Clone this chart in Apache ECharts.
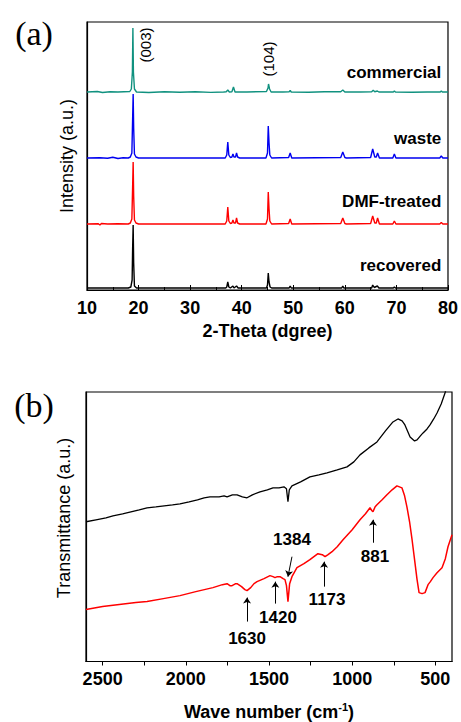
<!doctype html>
<html lang="en">
<head>
  <meta charset="UTF-8">
  <title>XRD and FTIR</title>
  <style>html, body {margin: 0; background: #fff;}</style>
</head>
<body>
<div id="main" style="width: 461px;height: 722px"></div>
<script src="https://cdn.jsdelivr.net/npm/echarts@6/dist/echarts.min.js"></script>
<script>
    // (a) XRD patterns, intensity (baseline = 0)
    var xrdNames = ['commercial', 'waste', 'DMF-treated', 'recovered'];
    var xrdOffsets = [198, 132, 66, 2];

    var xrdCommercial = [
        [10, 0], [12, 0.5], [13, -0.5], [14.5, 0.3], [16, 0], [18.3, 0.5], [18.6, 3], [18.8, 20], [18.9, 64],
        [19.0, 20], [19.2, 3], [19.6, 0], [22, -0.5], [25, 0.3], [28, -0.3], [31, 0.2], [34, -0.4], [36.5, 0],
        [37.0, 0.3], [37.3, 2], [37.6, 0], [38.1, 0.3], [38.4, 5], [38.7, 0], [41, 0], [44.8, 0.5], [45.1, 4],
        [45.2, 8], [45.4, 3], [45.7, 0], [48, 0], [49.2, 0.3], [49.4, 1.5], [49.6, 0], [53, -0.3], [56, 0.2],
        [59.2, 0.3], [59.6, 2], [60, 0], [63, 0], [65.2, 0.3], [65.5, 1.8], [65.8, 0.3], [66.3, 1], [66.6, 0],
        [69.4, 0], [69.6, 1], [69.8, 0], [73, -0.2], [76, 0], [78.5, 0], [78.7, 1], [78.9, 0], [80, 0]
    ];
    var xrdWaste = [
        [10, 0], [12.5, 0.3], [14, -0.3], [15, 0.8], [16, -0.5], [17, 0.2], [18, 0], [18.4, 1], [18.7, 5],
        [18.85, 40], [18.95, 64], [19.05, 30], [19.2, 4], [19.5, 1], [20, 0], [25, 0], [30, 0], [36.8, 0],
        [37.1, 3], [37.3, 16], [37.5, 3], [37.8, 0.5], [38.1, 1], [38.3, 4], [38.5, 1], [38.8, 1], [39.0, 5],
        [39.2, 1], [39.6, 0], [44.7, 0], [45.0, 5], [45.15, 32], [45.3, 15], [45.45, 3], [45.8, 0], [49.1, 0.5],
        [49.4, 5], [49.7, 0], [59.2, 0.5], [59.6, 6], [60, 0.5], [60.3, 0], [65.0, 0.5], [65.4, 9], [65.8, 1],
        [66.1, 1], [66.35, 5], [66.7, 0], [69.3, 0], [69.6, 4], [69.9, 0], [78.4, 0], [78.7, 2], [79, 0], [80, 0]
    ];
    var xrdDmf = [
        [10, 0], [12.2, 0.3], [12.5, -1], [12.8, 0.5], [14, 0], [16, 0.3], [18, 0], [18.4, 1], [18.7, 5],
        [18.85, 38], [18.95, 62], [19.05, 28], [19.2, 4], [19.5, 1], [20, 0], [25, 0], [30, 0], [36.8, 0],
        [37.1, 3], [37.3, 17], [37.5, 3], [37.8, 0.5], [38.1, 1], [38.3, 4], [38.5, 1], [38.8, 1], [39.0, 6],
        [39.2, 1], [39.6, 0], [44.7, 0], [45.0, 5], [45.15, 32], [45.3, 15], [45.45, 3], [45.8, 0], [49.1, 0.5],
        [49.4, 5], [49.7, 0], [59.2, 0.5], [59.6, 6], [60, 0.5], [60.3, 0], [65.0, 0.5], [65.4, 8], [65.8, 1],
        [66.1, 1], [66.35, 6], [66.7, 0], [69.3, 0], [69.6, 3], [69.9, 0], [78.4, 0], [78.7, 1.5], [79, 0], [80, 0]
    ];
    var xrdRecovered = [
        [10, 0], [14, 0], [18, 0], [18.5, 1], [18.75, 8], [18.85, 40], [18.95, 63], [19.05, 25], [19.2, 2],
        [19.6, 0], [25, 0], [30, 0], [36.9, 0], [37.1, 1], [37.3, 6], [37.5, 1], [37.8, 0], [38.3, 2], [38.5, 0],
        [39.0, 2], [39.3, 0], [44.8, 0], [45.0, 3], [45.15, 15], [45.3, 6], [45.5, 1], [45.8, 0], [49.2, 0],
        [49.4, 2], [49.6, 0], [59.4, 0], [59.6, 2], [59.8, 0], [65.2, 0], [65.4, 3], [65.7, 0.5], [66.3, 2],
        [66.6, 0], [69.4, 0], [69.6, 1], [69.8, 0], [80, 0]
    ];
    var xrdColors = ['#10917f', '#0000f0', '#ff0000', '#000000'];

    // (b) FTIR spectra [wave number, transmittance a.u.]
    var ftirTop = [
        [2600, 140], [2540, 142], [2480, 144], [2438, 146], [2380, 148], [2330, 150], [2280, 152], [2233, 154],
        [2180, 155], [2130, 156], [2080, 157], [2035, 158], [1980, 160], [1930, 162], [1890, 164], [1855, 165],
        [1800, 165], [1770, 166], [1752, 165], [1720, 167], [1692, 167], [1660, 165], [1632, 164], [1600, 167],
        [1554, 170], [1510, 172], [1476, 174], [1440, 174], [1410, 175], [1395, 173], [1386, 160], [1378, 172],
        [1362, 176], [1310, 180], [1254, 185], [1200, 187], [1151, 189], [1090, 192], [1031, 195], [990, 200],
        [953, 207], [900, 214], [851, 220], [800, 231], [755, 240], [725, 243], [700, 241], [683, 237],
        [652, 225], [625, 221], [610, 222], [590, 226], [574, 229], [550, 233], [532, 237], [510, 243],
        [490, 249], [465, 258], [442, 269], [400, 295]
    ];
    var ftirBottom = [
        [2600, 52], [2500, 55], [2400, 57], [2300, 59], [2233, 60], [2135, 63], [2035, 66], [1940, 70],
        [1837, 74], [1780, 77], [1752, 78], [1735, 76], [1722, 76], [1700, 78], [1692, 78], [1665, 75],
        [1645, 72], [1632, 71], [1610, 74], [1590, 78], [1572, 80], [1530, 83], [1494, 86], [1476, 85],
        [1464, 84], [1450, 85], [1434, 85], [1415, 83], [1404, 82], [1395, 76], [1386, 60], [1376, 78],
        [1362, 85], [1332, 94], [1290, 98], [1254, 102], [1230, 105], [1206, 108], [1180, 107], [1163, 105],
        [1145, 107], [1121, 110], [1090, 115], [1055, 122], [1000, 132], [953, 142], [920, 148], [893, 154],
        [881, 151], [875, 150], [862, 155], [851, 157], [820, 162], [791, 167], [760, 172], [731, 176],
        [701, 174], [685, 166], [671, 155], [655, 140], [640, 122], [625, 102], [610, 82], [598, 69],
        [580, 68], [562, 69], [544, 77], [530, 80], [514, 84], [490, 89], [460, 94], [440, 103], [424, 115],
        [400, 127]
    ];
    var ftirBands = ['1630', '1420', '1384', '1173', '881'];
    var ftirTicks = [2500, 2000, 1500, 1000, 500];

    var FONT = 'Liberation Sans';

    function shift(points, off) {
        return points.map(function (p) { return [p[0], p[1] + off]; });
    }

    var xrdData = [xrdCommercial, xrdWaste, xrdDmf, xrdRecovered];
    var series = xrdData.map(function (d, i) {
        return {
            name: xrdNames[i],
            type: 'line',
            xAxisIndex: 0,
            yAxisIndex: 0,
            data: shift(d, xrdOffsets[i]),
            showSymbol: false,
            lineStyle: {color: xrdColors[i], width: 1.4},
            z: 4 - i
        };
    });

    // arrows for the FTIR bands: [from, to] in data coords
    var arrows = [
        [[1632, 40], [1632, 64]],
        [[1462, 58], [1462, 80]],
        [[1362, 105], [1386, 85]],
        [[1169, 75], [1169, 100]],
        [[875, 119], [875, 142]]
    ];

    series.push({
        name: 'ftir-top', type: 'line', xAxisIndex: 1, yAxisIndex: 1,
        data: ftirTop, showSymbol: false, lineStyle: {color: '#000', width: 1.3}
    });
    series.push({
        name: 'ftir-bottom', type: 'line', xAxisIndex: 1, yAxisIndex: 1,
        data: ftirBottom, showSymbol: false, lineStyle: {color: '#ff0000', width: 1.5},
        markLine: {
            silent: true,
            symbol: ['none', 'arrow'],
            symbolSize: 6,
            label: {show: false},
            lineStyle: {color: '#000', width: 1, type: 'solid'},
            data: arrows.map(function (a) {
                return [{coord: a[0]}, {coord: a[1]}];
            })
        }
    });

    var tickFont = {fontFamily: FONT, fontSize: 18, fontWeight: 'bold', color: '#000'};

    var chart = echarts.init(document.getElementById('main'), null, {renderer: 'svg'});
    chart.setOption({
        animation: false,
        backgroundColor: '#fff',
        grid: [
            {left: 87, right: 9, top: 22, height: 268, show: true, borderColor: '#000', borderWidth: 1.2},
            {left: 86, right: 9, top: 392, height: 270, show: true, borderColor: '#000', borderWidth: 1.2}
        ],
        xAxis: [
            {
                type: 'value', gridIndex: 0, min: 10, max: 80, interval: 10,
                axisLine: {show: true, lineStyle: {color: '#000', width: 1.2}},
                axisTick: {inside: true, length: 5, lineStyle: {color: '#000'}},
                minorTick: {show: true, splitNumber: 2, length: 3, lineStyle: {color: '#000'}},
                splitLine: {show: false},
                axisLabel: Object.assign({margin: 9}, tickFont),
                name: '2-Theta (dgree)', nameLocation: 'middle', nameGap: 32,
                nameTextStyle: tickFont
            },
            {
                type: 'value', gridIndex: 1, min: 400, max: 2600, inverse: true,
                axisLine: {show: true, lineStyle: {color: '#000', width: 1.2}},
                axisTick: {
                    show: true, length: 4, lineStyle: {color: '#000'},
                    customValues: [2500, 2250, 2000, 1750, 1500, 1250, 1000, 750, 500]
                },
                splitLine: {show: false},
                axisLabel: Object.assign({
                    margin: 8, customValues: ftirTicks,
                    formatter: function (v) { return String(v); }
                }, tickFont),
                name: 'Wave number (cm{s|-1})', nameLocation: 'middle', nameGap: 40,
                nameTextStyle: Object.assign({
                    rich: {
                        s: {fontFamily: FONT, fontSize: 11, fontWeight: 'bold', color: '#000',
                            verticalAlign: 'top', padding: [0, 0, 10, 0]}
                    }
                }, tickFont)
            }
        ],
        yAxis: [
            {
                type: 'value', gridIndex: 0, min: 0, max: 268,
                axisLine: {show: true, lineStyle: {color: '#000', width: 1.2}},
                axisTick: {show: false}, axisLabel: {show: false}, splitLine: {show: false}
            },
            {
                type: 'value', gridIndex: 1, min: 0, max: 270,
                axisLine: {show: true, lineStyle: {color: '#000', width: 1.2}},
                axisTick: {show: false}, axisLabel: {show: false}, splitLine: {show: false}
            }
        ],
        series: series
    });

    // text annotations placed in data coords
    var xrdLabelPos = [[78.7, 218], [78.7, 152], [78.7, 89], [78.7, 25]];
    var peakLabels = [['(003)', 21.3, 245], ['(104)', 45.1, 231]];
    var bandLabelPos = [[1632, 23], [1446, 44], [1362, 122], [1151, 62], [863, 105]];

    var graphics = [];
    xrdNames.forEach(function (n, i) {
        var p = chart.convertToPixel({gridIndex: 0}, xrdLabelPos[i]);
        graphics.push({
            type: 'text', x: p[0], y: p[1],
            style: {text: n, font: 'bold 17px "' + FONT + '"', fill: '#000', align: 'right', verticalAlign: 'middle'}
        });
    });
    peakLabels.forEach(function (l) {
        var p = chart.convertToPixel({gridIndex: 0}, [l[1], l[2]]);
        graphics.push({
            type: 'text', x: p[0], y: p[1], rotation: Math.PI / 2,
            style: {text: l[0], font: '15px "' + FONT + '"', fill: '#000', align: 'center', verticalAlign: 'middle'}
        });
    });
    ftirBands.forEach(function (b, i) {
        var p = chart.convertToPixel({gridIndex: 1}, bandLabelPos[i]);
        graphics.push({
            type: 'text', x: p[0], y: p[1],
            style: {text: b, font: 'bold 17px "' + FONT + '"', fill: '#000', align: 'center', verticalAlign: 'middle'}
        });
    });
    // y axis titles and panel letters
    graphics.push({
        type: 'text', x: 67, y: 156, rotation: Math.PI / 2,
        style: {text: 'Intensity (a.u.)', font: '18px "' + FONT + '"', fill: '#000', align: 'center', verticalAlign: 'middle'}
    });
    graphics.push({
        type: 'text', x: 64, y: 518, rotation: Math.PI / 2,
        style: {text: 'Transmittance (a.u.)', font: '18px "' + FONT + '"', fill: '#000', align: 'center', verticalAlign: 'middle'}
    });
    graphics.push({
        type: 'text', x: 34, y: 33,
        style: {text: '(a)', font: '34px "Liberation Serif"', fill: '#000', align: 'center', verticalAlign: 'middle'}
    });
    graphics.push({
        type: 'text', x: 34, y: 405,
        style: {text: '(b)', font: '34px "Liberation Serif"', fill: '#000', align: 'center', verticalAlign: 'middle'}
    });
    chart.setOption({graphic: graphics});
</script>
</body>
</html>
